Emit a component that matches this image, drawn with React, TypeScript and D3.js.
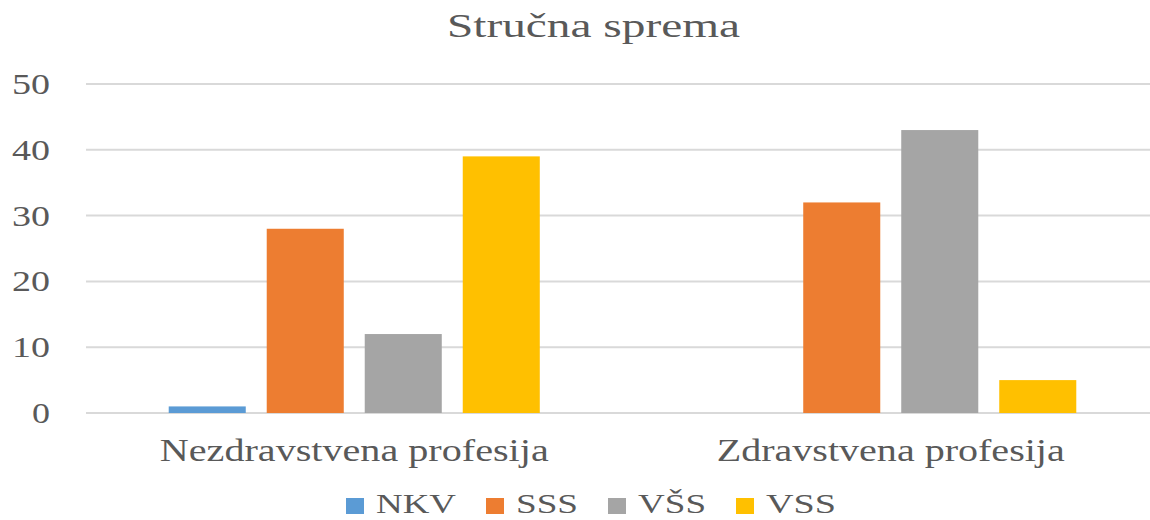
import React, { useEffect } from "react"
import * as d3 from "d3"

// chart data
const categories = ["Nezdravstvena profesija", "Zdravstvena profesija"]
const seriesNames = ["NKV", "SSS", "VŠS", "VSS"]
const seriesColors = ["#5B9BD5", "#ED7D31", "#A5A5A5", "#FFC000"]
const NKV = [1, 0]
const SSS = [28, 32]
const VSS_ = [12, 43] // VŠS
const VSS = [39, 5]
const seriesValues = [NKV, SSS, VSS_, VSS]
const yTicks = [0, 10, 20, 30, 40, 50]
const title = "Stručna sprema"

const W = 1150
const H = 520
const textColor = "#595959"
const font = "'Liberation Serif', 'Times New Roman', serif"

// measured text widths in the reference (text is stretched horizontally)
const categoryWidths = [389, 348]
const legendWidths = [80, 62, 68, 70]

export default function App() {
    useEffect(() => {
        document.body.style.margin = "0"
    }, [])

    let x = d3.scaleBand<string>()
        .domain(categories)
        .range([86, 1159])

    let inner = d3.scaleBand<string>()
        .domain(seriesNames)
        .range([0, x.bandwidth()])
        .paddingInner(0.214)
        .paddingOuter(0.844)

    let y = d3.scaleLinear()
        .domain([0, 50])
        .range([413, 84])

    // legend positions, one after the other
    let legendX: number[] = []
    let cur = 346
    seriesNames.forEach((_, i) => {
        legendX.push(cur)
        cur += 18 + 12 + legendWidths[i] + 30
    })

    return (
        <svg width={W} height={H} style={{ display: "block", background: "#fff" }} fontFamily={font}>
            <text x={593.5} y={37} textAnchor="middle" fontSize={33} fill={textColor}
                textLength={293} lengthAdjust="spacingAndGlyphs">{title}</text>

            {yTicks.map(t => (
                <g key={t}>
                    <line x1={86} x2={W} y1={y(t)} y2={y(t)} stroke="#D9D9D9" strokeWidth={2} />
                    <text x={50} y={y(t) + 10} textAnchor="end" fontSize={29} fill={textColor}
                        textLength={String(t).length === 1 ? 18 : 38} lengthAdjust="spacingAndGlyphs">{t}</text>
                </g>
            ))}

            {categories.map((c, ci) => (
                <g key={c} transform={`translate(${x(c)},0)`}>
                    {seriesNames.map((s, si) => {
                        let v = seriesValues[si][ci]
                        if (!v) return null
                        return (
                            <rect key={s} x={inner(s)} y={y(v)} width={inner.bandwidth()}
                                height={y(0) - y(v)} fill={seriesColors[si]} />
                        )
                    })}
                    <text x={x.bandwidth() / 2} y={461} textAnchor="middle" fontSize={31} fill={textColor}
                        textLength={categoryWidths[ci]} lengthAdjust="spacingAndGlyphs">{c}</text>
                </g>
            ))}

            {seriesNames.map((s, i) => (
                <g key={s}>
                    <rect x={legendX[i]} y={498} width={18} height={16} fill={seriesColors[i]} />
                    <text x={legendX[i] + 30} y={513} fontSize={28} fill={textColor}
                        textLength={legendWidths[i]} lengthAdjust="spacingAndGlyphs">{s}</text>
                </g>
            ))}
        </svg>
    )
}
